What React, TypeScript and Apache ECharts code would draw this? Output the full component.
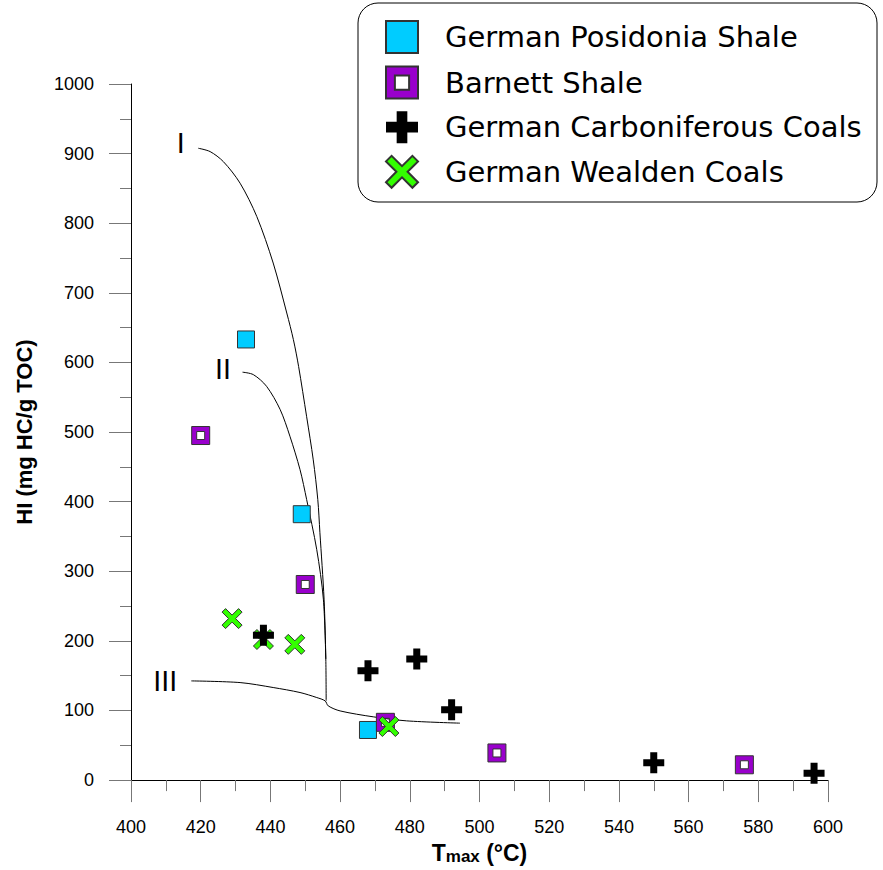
import { useEffect, useRef } from "react";
import * as echarts from "echarts";

// T_max (°C), HI (mg HC/g TOC)
const posidonia = [[433, 633], [449, 382], [468, 72]];
const barnett = [[420, 495], [450, 281], [473, 83], [505, 39], [576, 22]];
const carboniferous = [[438, 208], [468, 157], [482, 174], [492, 101], [550, 25], [596, 10]];
const wealden = [[429, 232], [438, 202], [447, 195], [474, 77]];

const typeI = [
  [419.3, 907.7], [422.7, 902.9], [426.5, 888.5], [431.3, 857.5], [436.1, 809.6],
  [440.8, 742.8], [444.7, 671], [446.6, 632.7], [448.1, 594], [450.4, 522],
  [452.3, 460], [453.6, 403], [454.2, 356], [455.4, 260], [455.9, 174], [456, 114],
];
const typeII = [
  [432, 586], [435.1, 582.5], [438.9, 565.7], [442.8, 532.3], [445.6, 494],
  [448.5, 446], [450.4, 403], [453.3, 331], [455.2, 260], [455.9, 174],
];
const typeIII = [
  [417.3, 142.5], [431.3, 140.1], [440.8, 133], [448.5, 125.8], [453.3, 118.6],
  [455.7, 113.8], [456.6, 106.6], [460, 99.4], [469.5, 90.9], [479.1, 85.1], [494.4, 81.8],
];
const curveLabelNames = ["I", "II", "III"];
const curveLabelPos = [[414.3, 915], [426.4, 590], [409.8, 141]];

const legendNames = [
  "German Posidonia Shale",
  "Barnett Shale",
  "German Carboniferous Coals",
  "German Wealden Coals",
];

const hollowSquare = "path://M0,0H18V18H0Z M5,5V13H13V5Z";
const plusPath = "path://M7,0H14V7H21V14H14V21H7V14H0V7H7Z";
const crossPath =
  "path://M0,3.5L3.5,0L10,6.5L16.5,0L20,3.5L13.5,10L20,16.5L16.5,20L10,13.5L3.5,20L0,16.5L6.5,10Z";

export default function App() {
  const ref = useRef<HTMLDivElement>(null);
  useEffect(() => {
    if (!ref.current) return;
    const chart = echarts.init(ref.current, null, { renderer: "svg" });
    const curve = (name: string, data: number[][]) => ({
      name,
      type: "line",
      data,
      showSymbol: false,
      symbol: "none",
      smooth: 0.3,
      silent: true,
      lineStyle: { color: "#000", width: 1 },
      z: 1,
    });
    chart.setOption({
      animation: false,
      backgroundColor: "#fff",
      grid: { left: 131, top: 84, width: 697, height: 697 },
      graphic: [
        {
          type: "rect",
          shape: { x: 358, y: 3, width: 519, height: 199, r: 20 },
          style: { fill: "#fff", stroke: "#000", lineWidth: 1 },
          z: 0,
        },
      ],
      legend: {
        data: legendNames,
        orient: "vertical",
        left: 385,
        top: 20,
        itemWidth: 32,
        itemHeight: 32,
        itemGap: 11.6,
        padding: 0,
        z: 10,
        textStyle: {
          fontFamily: "DejaVu Sans",
          fontSize: 29,
          color: "#000",
          padding: [0, 0, 0, 22],
        },
      },
      xAxis: {
        type: "value",
        min: 400,
        max: 600,
        interval: 20,
        name: "{a|T}{b|max}{a| (°C)}",
        nameLocation: "middle",
        nameGap: 56,
        nameTextStyle: {
          rich: {
            a: { fontFamily: "Liberation Sans", fontWeight: "bold", fontSize: 23, color: "#000" },
            b: {
              fontFamily: "Liberation Sans",
              fontWeight: "bold",
              fontSize: 17,
              color: "#000",
              verticalAlign: "bottom",
              padding: [8, 0, 0, 0],
            },
          },
        },
        axisLine: { show: true, onZero: false, lineStyle: { color: "#000", width: 1 } },
        axisTick: { show: true, inside: false, length: 22, lineStyle: { color: "#777" } },
        minorTick: { show: true, splitNumber: 2, length: 11, lineStyle: { color: "#777" } },
        splitLine: { show: false },
        axisLabel: {
          margin: 38,
          fontFamily: "Liberation Sans",
          fontSize: 18,
          color: "#000",
          formatter: (v: number) => String(v),
        },
      },
      yAxis: {
        type: "value",
        min: 0,
        max: 1000,
        interval: 100,
        name: "HI (mg HC/g TOC)",
        nameLocation: "middle",
        nameGap: 96,
        nameTextStyle: {
          fontFamily: "Liberation Sans",
          fontWeight: "bold",
          fontSize: 22,
          color: "#000",
        },
        axisLine: { show: true, onZero: false, lineStyle: { color: "#000", width: 1 } },
        axisTick: { show: true, inside: false, length: 22, lineStyle: { color: "#777" } },
        minorTick: { show: true, splitNumber: 2, length: 11, lineStyle: { color: "#777" } },
        splitLine: { show: false },
        axisLabel: {
          margin: 37,
          fontFamily: "Liberation Sans",
          fontSize: 18,
          color: "#000",
          formatter: (v: number) => String(v),
        },
      },
      series: [
        curve("Type I", typeI),
        curve("Type II", typeII),
        curve("Type III", typeIII),
        {
          name: "curve labels",
          type: "custom",
          silent: true,
          data: curveLabelPos.map((p, i) => [p[0], p[1], i]),
          renderItem: (params: any, api: any) => {
            const pt = api.coord([api.value(0), api.value(1)]);
            return {
              type: "text",
              x: pt[0],
              y: pt[1],
              style: {
                text: curveLabelNames[api.value(2)],
                fontFamily: "DejaVu Sans",
                fontSize: 27,
                fill: "#000",
                align: "center",
                verticalAlign: "middle",
              },
            };
          },
          z: 2,
        },
        {
          name: "German Posidonia Shale",
          type: "scatter",
          data: posidonia,
          symbol: "rect",
          symbolSize: 17,
          itemStyle: { color: "#00CCFF", borderColor: "#333", borderWidth: 1, opacity: 1 },
          z: 3,
        },
        {
          name: "Barnett Shale",
          type: "scatter",
          data: barnett,
          symbol: hollowSquare,
          symbolSize: 18,
          itemStyle: { color: "#9900CC", borderColor: "#333", borderWidth: 1, opacity: 1 },
          z: 4,
        },
        {
          name: "German Wealden Coals",
          type: "scatter",
          data: wealden,
          symbol: crossPath,
          symbolSize: 20,
          itemStyle: { color: "#33FF00", borderColor: "#333", borderWidth: 1, opacity: 1 },
          z: 5,
        },
        {
          name: "German Carboniferous Coals",
          type: "scatter",
          data: carboniferous,
          symbol: plusPath,
          symbolSize: 21,
          itemStyle: { color: "#000", opacity: 1 },
          z: 6,
        },
      ],
    });
    return () => chart.dispose();
  }, []);
  return (
    <div
      ref={ref}
      style={{ position: "fixed", left: 0, top: 0, width: 883, height: 870, background: "#fff" }}
    />
  );
}
